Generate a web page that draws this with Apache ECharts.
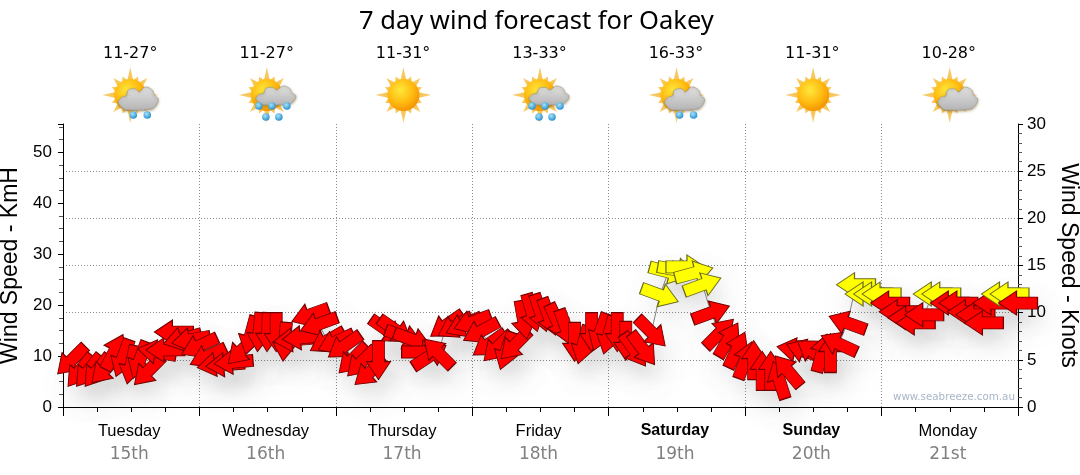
<!DOCTYPE html>
<html><head><meta charset="utf-8">
<style>html,body{margin:0;padding:0;background:#fff}#c{width:1080px;height:475px}</style>
<script src="https://cdn.jsdelivr.net/npm/echarts@6/dist/echarts.min.js"></script>
</head><body><div id="c"></div>
<script>
const days=['Tuesday','Wednesday','Thursday','Friday','Saturday','Sunday','Monday'];
const dates=['15th','16th','17th','18th','19th','20th','21st'];
const temps=['11-27°','11-27°','11-31°','13-33°','16-33°','11-31°','10-28°'];
const icons=['shower','rain','sun','rain','shower','sun','cloud'];
const speedsKmh=[9.2,7.1,7.1,7.1,7.5,10.8,9.6,8.3,9.2,7.1,10.8,11.2,14.7,13.4,13.2,12.0,
10.0,8.4,8.3,8.8,11.2,14.1,14.7,14.7,14.7,12.8,13.2,13.6,18.1,16.3,13.0,12.8,
12.0,9.4,8.8,6.9,9.2,15.1,15.1,13.8,13.2,10.8,10.0,10.6,16.1,15.9,16.1,16.7,
14.9,12.4,11.8,11.0,12.2,17.1,18.5,18.5,17.7,16.7,15.5,12.8,12.2,14.7,14.7,14.1,
14.7,13.0,11.2,11.4,14.7,22.0,26.5,26.9,27.5,26.3,24.0,18.5,14.5,13.2,11.2,9.2,
9.2,7.1,7.1,5.3,7.1,11.2,11.0,10.8,10.6,10.6,12.4,16.5,24.0,22.2,22.2,22.2,
20.4,18.7,17.5,16.5,18.1,22.2,22.2,20.4,20.4,18.7,18.1,16.5,20.4,22.2,22.2,20.4];
const headings=[225,232,232,232,225,63,250,258,250,225,170,180,180,195,190,205,
205,190,185,185,225,255,265,268,270,265,185,185,200,200,210,205,
215,225,225,220,270,325,325,340,340,0,33,135,215,210,205,200,
208,215,225,252,225,280,286,288,290,295,290,270,255,270,250,255,
270,270,305,307,315,340,345,350,0,15,20,20,45,60,65,70,
90,90,90,108,130,170,160,145,75,90,155,160,180,180,180,180,
180,180,180,180,180,180,180,180,180,180,180,180,180,180,180,180];
const STEP_HOURS=1.5, DAY_HOURS=24, KNOT_KMH=1.852, YELLOW_FROM=21.5;
const ARROW='path://M0,6 L21,6 L21,0 L39,12 L21,24 L21,18 L0,18 Z';
const ARROW_SIZE=[39,24];
const points=speedsKmh.map((v,i)=>[(i+1)*STEP_HOURS,v]);

const font='"Liberation Sans",Arial,sans-serif';
const chart=echarts.init(document.getElementById('c'));
const cloudShape=[[3,20],[0,15],[4,10],[8,9],[10,3],[17,2],[21,5],[27,0],[34,3],[36,8],[40,12],[38,18],[33,22],[8,23]];

function icon(kind,cx){
  const cy=95, els=[];
  const pts=[];
  const n=32;
  for(let i=0;i<n;i++){
    const a=i/n*Math.PI*2;
    let r=15;
    if(i%2===0){ r=i%8===0?28:(i%4===0?24:20); }
    pts.push([cx+r*Math.sin(a),cy-r*Math.cos(a)]);
  }
  els.push({type:'polygon',shape:{points:pts},style:{fill:new echarts.graphic.RadialGradient(.5,.5,.5,[{offset:0,color:'#FFB81E'},{offset:1,color:'#F4CF7A'}])}});
  els.push({type:'circle',shape:{cx:cx,cy:cy,r:16},style:{fill:new echarts.graphic.RadialGradient(.4,.35,.7,[{offset:0,color:'#FFE83A'},{offset:.6,color:'#FFB80F'},{offset:1,color:'#F08E00'}])}});
  if(kind!=='sun'){
    const rainy=kind==='rain';
    const x=cx+(rainy?-11:-12), y=cy+(rainy?-9:-8), sy=rainy?0.82:1;
    els.push({type:'polygon',shape:{smooth:.35,points:cloudShape.map(p=>[x+p[0],y+p[1]*sy])},
      style:{fill:new echarts.graphic.LinearGradient(0,0,0,1,[{offset:0,color:'#E2E2E2'},{offset:1,color:'#B4B4B4'}]),stroke:'#9a9a9a',lineWidth:.6,shadowBlur:3,shadowColor:'rgba(120,90,20,.55)',shadowOffsetY:1}});
    const drops=kind==='rain'?[[-8,11],[5,11],[20,11],[-1,22],[12,22]]:(kind==='shower'?[[3,20],[17,20]]:[]);
    drops.forEach(d=>els.push({type:'circle',shape:{cx:cx+d[0],cy:cy+d[1],r:3.8},style:{fill:new echarts.graphic.RadialGradient(.4,.35,.7,[{offset:0,color:'#A5E4F8'},{offset:1,color:'#2089CF'}])}}));
  }
  return els;
}
const dayWidth=956/7;
const graphics=[];
icons.forEach((k,i)=>icon(k,62+dayWidth*(i+.5)).forEach(e=>graphics.push(e)));
graphics.push({type:'text',x:893,y:392,style:{text:'www.seabreeze.com.au',font:'10.3px "DejaVu Sans",sans-serif',fill:'#A9B5C8'}});

const arrowItem=(p,i,fill,stroke)=>({value:p,symbolRotate:headings[i],itemStyle:{color:fill,borderColor:stroke,borderWidth:1,opacity:1}});
const gridDots={color:'#8c8c8c',type:[1,2]};
chart.setOption({
  animation:false,
  backgroundColor:'#fff',
  title:{text:'7 day wind forecast for Oakey',left:354,top:4,textStyle:{fontFamily:'"Noto Sans",sans-serif',fontSize:25.5,fontWeight:'normal',color:'#000'}},
  grid:{left:63,right:62,top:124,bottom:68,outerBoundsMode:'none',containLabel:false},
  xAxis:[
    {type:'value',min:0,max:168,interval:DAY_HOURS,position:'bottom',
     axisLine:{show:true,onZero:false,lineStyle:{color:'#000'}},
     axisTick:{show:true,length:9,lineStyle:{color:'#000'}},
     minorTick:{show:true,splitNumber:4,length:5,lineStyle:{color:'#000'}},
     axisLabel:{show:false},
     splitLine:{show:true,showMinLine:false,showMaxLine:false,lineStyle:gridDots}},
    {type:'category',data:days,position:'bottom',boundaryGap:true,
     axisLine:{show:false},axisTick:{show:false},
     axisLabel:{interval:0,margin:12,padding:[0,4,0,0],fontFamily:'"DejaVu Sans",sans-serif',
       formatter:(v,i)=>(i===4||i===5?'{b|'+v+'}':'{d|'+v+'}')+'\n{n|'+dates[i]+'}',
       rich:{d:{fontFamily:font,fontSize:16.5,color:'#000',lineHeight:24,height:24},
             b:{fontFamily:font,fontSize:16,fontWeight:'bold',color:'#000',lineHeight:24,height:24},
             n:{fontFamily:'"DejaVu Sans",sans-serif',fontSize:17,color:'#808080',lineHeight:24,height:24}}}},
    {type:'category',data:temps,position:'top',boundaryGap:true,
     axisLine:{show:false},axisTick:{show:false},
     axisLabel:{interval:0,margin:62,padding:[0,2,0,0],fontFamily:'"DejaVu Sans",sans-serif',fontSize:16,color:'#000'}}
  ],
  yAxis:[
    {type:'value',min:0,max:30*KNOT_KMH,interval:10,position:'left',
     name:'Wind Speed - KmH',nameLocation:'middle',nameGap:35,nameTextStyle:{fontFamily:font,fontSize:23,color:'#000'},
     axisLine:{show:true,lineStyle:{color:'#000'}},
     axisTick:{show:true,length:5,lineStyle:{color:'#000'}},
     minorTick:{show:true,splitNumber:4,length:4,lineStyle:{color:'#555'}},
     axisLabel:{showMaxLabel:false,margin:11,fontFamily:font,fontSize:17,color:'#000'},
     splitLine:{show:false}},
    {type:'value',min:0,max:30,interval:5,position:'right',
     name:'Wind Speed - Knots',nameLocation:'middle',nameRotate:-90,nameGap:34,nameTextStyle:{fontFamily:font,fontSize:23,color:'#000'},
     axisLine:{show:true,lineStyle:{color:'#000'}},
     axisTick:{show:true,length:5,lineStyle:{color:'#000'}},
     minorTick:{show:true,splitNumber:5,length:4,lineStyle:{color:'#555'}},
     axisLabel:{margin:9,fontFamily:font,fontSize:17,color:'#000'},
     splitLine:{show:true,showMinLine:false,showMaxLine:false,lineStyle:gridDots}}
  ],
  series:[
    {type:'scatter',name:'shadow',z:2,clip:false,silent:true,symbol:ARROW,symbolSize:ARROW_SIZE,
     data:points.map(p=>({value:p})),symbolRotate:(v,params)=>headings[params.dataIndex],
     itemStyle:{opacity:1,color:'#fff',shadowColor:'rgba(0,0,0,.08)',shadowBlur:20,shadowOffsetX:7,shadowOffsetY:15}},
    {type:'line',name:'track',z:3,data:points,symbol:'none',lineStyle:{color:'#808080',width:1}},
    {type:'scatter',name:'wind',z:4,clip:false,symbol:ARROW,symbolSize:ARROW_SIZE,
     data:points.map((p,i)=>p[1]>=YELLOW_FROM?arrowItem(p,i,'#FFFF00','#6b6b22'):arrowItem(p,i,'#FF0000','#6e0000'))}
  ],
  graphic:{elements:graphics}
});
</script></body></html>
